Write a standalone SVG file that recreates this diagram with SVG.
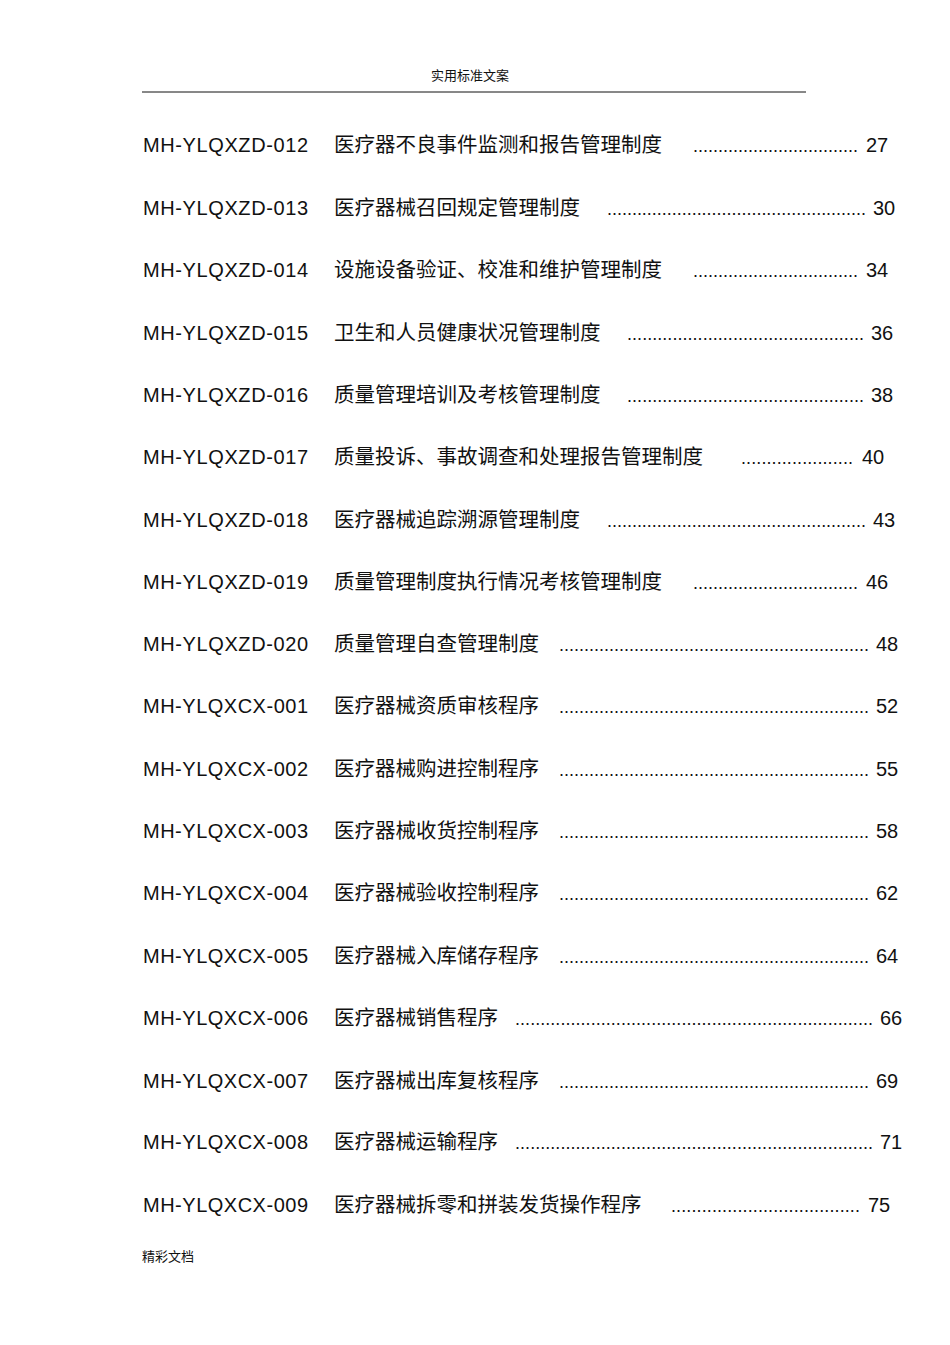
<svg xmlns="http://www.w3.org/2000/svg" width="950" height="1345" viewBox="0 0 950 1345">
<style>
text{font-family:"Liberation Sans","Noto Sans CJK SC",sans-serif;fill:#111}
.c{font-size:20px}
.t{font-size:20.5px}
.d{font-size:18px}
.n{font-size:20px}
.s{font-size:13px}
</style>
<rect width="950" height="1345" fill="#fff"/>
<text class="s" x="470" y="80" text-anchor="middle">实用标准文案</text>
<line x1="142" y1="92" x2="806" y2="92" stroke="#111" stroke-width="1"/>
<g id="rows">
<g transform="translate(0,152)"><text class="c" x="143" textLength="165">MH-YLQXZD-012</text><text class="t" x="334">医疗器不良事件监测和报告管理制度</text><text class="d" x="693" textLength="165" lengthAdjust="spacing">.................................</text><text class="n" x="866">27</text></g>
<g transform="translate(0,215)"><text class="c" x="143" textLength="165">MH-YLQXZD-013</text><text class="t" x="334">医疗器械召回规定管理制度</text><text class="d" x="607" textLength="259" lengthAdjust="spacing">....................................................</text><text class="n" x="873">30</text></g>
<g transform="translate(0,277)"><text class="c" x="143" textLength="165">MH-YLQXZD-014</text><text class="t" x="334">设施设备验证、校准和维护管理制度</text><text class="d" x="693" textLength="165" lengthAdjust="spacing">.................................</text><text class="n" x="866">34</text></g>
<g transform="translate(0,340)"><text class="c" x="143" textLength="165">MH-YLQXZD-015</text><text class="t" x="334">卫生和人员健康状况管理制度</text><text class="d" x="627" textLength="237" lengthAdjust="spacing">...............................................</text><text class="n" x="871">36</text></g>
<g transform="translate(0,402)"><text class="c" x="143" textLength="165">MH-YLQXZD-016</text><text class="t" x="334">质量管理培训及考核管理制度</text><text class="d" x="627" textLength="237" lengthAdjust="spacing">...............................................</text><text class="n" x="871">38</text></g>
<g transform="translate(0,464)"><text class="c" x="143" textLength="165">MH-YLQXZD-017</text><text class="t" x="334">质量投诉、事故调查和处理报告管理制度</text><text class="d" x="741" textLength="112" lengthAdjust="spacing">......................</text><text class="n" x="862">40</text></g>
<g transform="translate(0,527)"><text class="c" x="143" textLength="165">MH-YLQXZD-018</text><text class="t" x="334">医疗器械追踪溯源管理制度</text><text class="d" x="607" textLength="259" lengthAdjust="spacing">....................................................</text><text class="n" x="873">43</text></g>
<g transform="translate(0,589)"><text class="c" x="143" textLength="165">MH-YLQXZD-019</text><text class="t" x="334">质量管理制度执行情况考核管理制度</text><text class="d" x="693" textLength="165" lengthAdjust="spacing">.................................</text><text class="n" x="866">46</text></g>
<g transform="translate(0,651)"><text class="c" x="143" textLength="165">MH-YLQXZD-020</text><text class="t" x="334">质量管理自查管理制度</text><text class="d" x="559" textLength="310" lengthAdjust="spacing">..............................................................</text><text class="n" x="876">48</text></g>
<g transform="translate(0,713)"><text class="c" x="143" textLength="165">MH-YLQXCX-001</text><text class="t" x="334">医疗器械资质审核程序</text><text class="d" x="559" textLength="310" lengthAdjust="spacing">..............................................................</text><text class="n" x="876">52</text></g>
<g transform="translate(0,776)"><text class="c" x="143" textLength="165">MH-YLQXCX-002</text><text class="t" x="334">医疗器械购进控制程序</text><text class="d" x="559" textLength="310" lengthAdjust="spacing">..............................................................</text><text class="n" x="876">55</text></g>
<g transform="translate(0,838)"><text class="c" x="143" textLength="165">MH-YLQXCX-003</text><text class="t" x="334">医疗器械收货控制程序</text><text class="d" x="559" textLength="310" lengthAdjust="spacing">..............................................................</text><text class="n" x="876">58</text></g>
<g transform="translate(0,900)"><text class="c" x="143" textLength="165">MH-YLQXCX-004</text><text class="t" x="334">医疗器械验收控制程序</text><text class="d" x="559" textLength="310" lengthAdjust="spacing">..............................................................</text><text class="n" x="876">62</text></g>
<g transform="translate(0,963)"><text class="c" x="143" textLength="165">MH-YLQXCX-005</text><text class="t" x="334">医疗器械入库储存程序</text><text class="d" x="559" textLength="310" lengthAdjust="spacing">..............................................................</text><text class="n" x="876">64</text></g>
<g transform="translate(0,1025)"><text class="c" x="143" textLength="165">MH-YLQXCX-006</text><text class="t" x="334">医疗器械销售程序</text><text class="d" x="515" textLength="358" lengthAdjust="spacing">.......................................................................</text><text class="n" x="880">66</text></g>
<g transform="translate(0,1088)"><text class="c" x="143" textLength="165">MH-YLQXCX-007</text><text class="t" x="334">医疗器械出库复核程序</text><text class="d" x="559" textLength="310" lengthAdjust="spacing">..............................................................</text><text class="n" x="876">69</text></g>
<g transform="translate(0,1149)"><text class="c" x="143" textLength="165">MH-YLQXCX-008</text><text class="t" x="334">医疗器械运输程序</text><text class="d" x="515" textLength="358" lengthAdjust="spacing">.......................................................................</text><text class="n" x="880">71</text></g>
<g transform="translate(0,1212)"><text class="c" x="143" textLength="165">MH-YLQXCX-009</text><text class="t" x="334">医疗器械拆零和拼装发货操作程序</text><text class="d" x="671" textLength="189" lengthAdjust="spacing">.....................................</text><text class="n" x="868">75</text></g>
</g>
<text class="s" x="142" y="1261">精彩文档</text>
</svg>
